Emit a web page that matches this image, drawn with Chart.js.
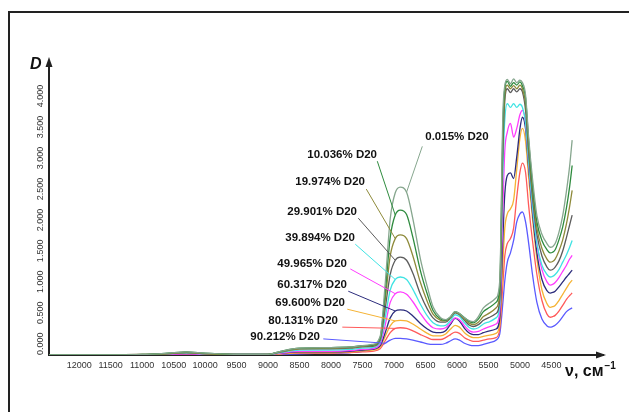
<!DOCTYPE html>
<html><head><meta charset="utf-8">
<script src="https://cdn.jsdelivr.net/npm/chart.js@4.4.0/dist/chart.umd.min.js"></script>
<style>
html,body{margin:0;padding:0;background:#fff;}
#wrap{position:relative;width:629px;height:412px;overflow:hidden;background:#fff;}
#frame{position:absolute;left:8px;top:11px;width:700px;height:500px;border-left:2px solid #222;border-top:2px solid #222;}
canvas{position:absolute;left:0;top:0;}
</style></head><body>
<div id="wrap"><div id="frame"></div><canvas id="c" width="629" height="412"></canvas></div>
<script>
// wavenumbers, cm^-1
const wave = [12480, 12000, 11000, 10600, 10300, 10000, 9500, 9000, 8800, 8500, 8000, 7700, 7500, 7350, 7220, 7140, 7060, 6980, 6900, 6800, 6700, 6580, 6470, 6380, 6260, 6180, 6100, 6030, 5960, 5880, 5800, 5740, 5660, 5580, 5480, 5380, 5320, 5270, 5240, 5200, 5150, 5100, 5050, 5000, 4960, 4910, 4860, 4800, 4730, 4650, 4570, 4520, 4480, 4440, 4380, 4320, 4260, 4210, 4170];
const xTicks = [12000, 11500, 11000, 10500, 10000, 9500, 9000, 8500, 8000, 7500, 7000, 6500, 6000, 5500, 5000, 4500];
const yTicks = [0, 0.5, 1, 1.5, 2, 2.5, 3, 3.5, 4];
const seriesNames = ['0.015% D20', '10.036% D20', '19.974% D20', '29.901% D20', '39.894% D20', '49.965% D20', '60.317% D20', '69.600% D20', '80.131% D20', '90.212% D20'];
const seriesColors = ['#86a68e', '#2e8b3e', '#8e8a3a', '#5c5c5c', '#3fe3e3', '#ff3cff', '#2c2c7c', '#f5b335', '#ff5a5a', '#5a5aff'];

const d00 = [0, 0, 0.01, 0.03, 0.05, 0.03, 0.01, 0.01, 0.06, 0.11, 0.12, 0.13, 0.15, 0.17, 0.3, 1.15, 2.2, 2.62, 2.71, 2.63, 2.2, 1.55, 1.1, 0.78, 0.6, 0.57, 0.62, 0.7, 0.67, 0.6, 0.55, 0.54, 0.62, 0.76, 0.84, 0.92, 1.2, 3.9, 4.35, 4.45, 4.38, 4.46, 4.4, 4.44, 4.4, 4.2, 3.5, 2.85, 2.25, 1.95, 1.8, 1.74, 1.75, 1.8, 1.98, 2.25, 2.65, 3.05, 3.47];
const d10 = [0, 0, 0.01, 0.03, 0.05, 0.03, 0.01, 0.01, 0.06, 0.11, 0.12, 0.13, 0.15, 0.16, 0.28, 1.0, 1.9, 2.26, 2.34, 2.27, 1.9, 1.36, 0.98, 0.72, 0.58, 0.56, 0.62, 0.7, 0.67, 0.6, 0.54, 0.52, 0.58, 0.7, 0.77, 0.85, 1.1, 3.7, 4.3, 4.42, 4.34, 4.4, 4.36, 4.41, 4.35, 4.15, 3.45, 2.75, 2.15, 1.85, 1.7, 1.65, 1.66, 1.7, 1.86, 2.07, 2.38, 2.72, 3.06];
const d20 = [0, 0, 0.01, 0.02, 0.04, 0.02, 0.01, 0.01, 0.05, 0.1, 0.11, 0.12, 0.14, 0.15, 0.26, 0.88, 1.6, 1.88, 1.94, 1.88, 1.6, 1.17, 0.86, 0.66, 0.56, 0.55, 0.61, 0.69, 0.66, 0.58, 0.51, 0.49, 0.53, 0.62, 0.68, 0.76, 1.0, 3.5, 4.2, 4.36, 4.3, 4.35, 4.3, 4.36, 4.3, 4.05, 3.35, 2.65, 2.05, 1.72, 1.55, 1.5, 1.51, 1.55, 1.68, 1.86, 2.12, 2.4, 2.66];
const d30 = [0, 0, 0.01, 0.02, 0.04, 0.02, 0.01, 0.01, 0.05, 0.1, 0.1, 0.11, 0.13, 0.14, 0.24, 0.75, 1.3, 1.53, 1.58, 1.53, 1.32, 0.98, 0.74, 0.6, 0.53, 0.53, 0.6, 0.68, 0.65, 0.56, 0.48, 0.46, 0.49, 0.56, 0.61, 0.67, 0.9, 3.3, 4.1, 4.3, 4.24, 4.3, 4.25, 4.3, 4.25, 3.95, 3.25, 2.55, 1.95, 1.6, 1.42, 1.37, 1.38, 1.42, 1.52, 1.68, 1.9, 2.1, 2.26];
const d40 = [0, 0, 0, 0.02, 0.03, 0.02, 0.01, 0.01, 0.04, 0.08, 0.08, 0.09, 0.11, 0.12, 0.21, 0.6, 1.05, 1.22, 1.26, 1.22, 1.06, 0.82, 0.63, 0.52, 0.47, 0.48, 0.56, 0.65, 0.62, 0.52, 0.44, 0.42, 0.44, 0.5, 0.54, 0.6, 0.8, 3.0, 3.8, 4.06, 4.0, 4.06, 4.0, 4.05, 4.0, 3.75, 3.1, 2.4, 1.8, 1.45, 1.3, 1.26, 1.27, 1.3, 1.38, 1.5, 1.62, 1.74, 1.85];
const d50 = [0, 0, 0, 0.01, 0.02, 0.01, 0.01, 0.01, 0.03, 0.06, 0.06, 0.07, 0.09, 0.1, 0.18, 0.48, 0.85, 0.99, 1.02, 0.98, 0.86, 0.67, 0.52, 0.44, 0.42, 0.44, 0.52, 0.6, 0.57, 0.47, 0.39, 0.37, 0.38, 0.42, 0.46, 0.5, 0.7, 2.4, 3.3, 3.6, 3.74, 3.52, 3.66, 3.88, 3.95, 3.75, 3.1, 2.4, 1.8, 1.38, 1.18, 1.13, 1.14, 1.17, 1.25, 1.35, 1.45, 1.55, 1.61];
const d60 = [0, 0, 0, 0.01, 0.02, 0.01, 0.01, 0.01, 0.03, 0.05, 0.05, 0.06, 0.08, 0.09, 0.15, 0.36, 0.6, 0.71, 0.73, 0.71, 0.63, 0.51, 0.42, 0.37, 0.36, 0.39, 0.5, 0.59, 0.55, 0.43, 0.35, 0.33, 0.33, 0.36, 0.39, 0.42, 0.6, 1.9, 2.6, 2.9, 2.94, 2.85, 3.2, 3.65, 3.84, 3.65, 3.0, 2.3, 1.65, 1.22, 1.04, 1.0, 1.01, 1.03, 1.1, 1.18, 1.26, 1.32, 1.37];
const d70 = [0, 0, 0, 0.01, 0.01, 0.01, 0, 0.01, 0.02, 0.04, 0.04, 0.05, 0.07, 0.08, 0.13, 0.3, 0.47, 0.55, 0.56, 0.55, 0.5, 0.42, 0.35, 0.31, 0.31, 0.34, 0.42, 0.48, 0.45, 0.36, 0.3, 0.28, 0.28, 0.3, 0.32, 0.35, 0.5, 1.5, 2.05, 2.28, 2.36, 2.5, 3.0, 3.5, 3.66, 3.45, 2.85, 2.2, 1.55, 1.05, 0.83, 0.77, 0.78, 0.8, 0.88, 0.98, 1.08, 1.16, 1.21];
const d80 = [0, 0, 0, 0.01, 0.01, 0.01, 0, 0, 0.02, 0.03, 0.03, 0.04, 0.05, 0.06, 0.1, 0.23, 0.36, 0.43, 0.44, 0.43, 0.39, 0.33, 0.28, 0.25, 0.25, 0.28, 0.33, 0.37, 0.35, 0.28, 0.24, 0.22, 0.22, 0.24, 0.26, 0.28, 0.42, 1.15, 1.6, 1.8, 1.88, 2.05, 2.55, 2.95, 3.1, 2.95, 2.4, 1.85, 1.3, 0.88, 0.66, 0.61, 0.62, 0.64, 0.71, 0.8, 0.9, 0.96, 1.0];
const d90 = [0, 0, 0, 0, 0.01, 0.01, 0, 0, 0.01, 0.02, 0.03, 0.04, 0.06, 0.1, 0.14, 0.19, 0.24, 0.27, 0.27, 0.26, 0.24, 0.21, 0.18, 0.17, 0.17, 0.19, 0.23, 0.26, 0.24, 0.19, 0.16, 0.15, 0.15, 0.17, 0.2, 0.24, 0.34, 0.85, 1.2, 1.5, 1.65, 1.85, 2.15, 2.28, 2.31, 2.15, 1.8, 1.3, 0.85, 0.58, 0.47, 0.45, 0.46, 0.48, 0.54, 0.62, 0.7, 0.74, 0.76];
const seriesValues = [d00, d10, d20, d30, d40, d50, d60, d70, d80, d90];

// callout labels (data units: wavenumber / D) and leader lines
const labelWave = [6503, 8377, 8568, 8695, 8727, 8854, 8854, 8886, 8997, 9283];
const labelD = [3.53, 3.23, 2.79, 2.31, 1.89, 1.48, 1.13, 0.84, 0.55, 0.29];
const leaderWave = [6550, 7265, 7440, 7567, 7615, 7694, 7726, 7742, 7821, 8123];
const leaderD = [3.37, 3.13, 2.68, 2.21, 1.79, 1.39, 1.03, 0.74, 0.45, 0.26];
const leaderIdx = [19, 17, 17, 17, 17, 17, 17, 17, 17, 15];

Chart.defaults.font.family = '"Liberation Sans", Arial, sans-serif';

const datasets = seriesNames.map((name, i) => ({
  label: name,
  data: wave.map((w, k) => ({x: w, y: seriesValues[i][k]})),
  borderColor: seriesColors[i],
  backgroundColor: seriesColors[i],
  borderWidth: 1.3,
  pointRadius: 0,
  fill: false,
  cubicInterpolationMode: 'monotone'
}));

const decor = {
  id: 'decor',
  afterDraw(chart) {
    const {ctx, chartArea: a, scales: {x, y}} = chart;
    ctx.save();
    // arrow heads
    ctx.fillStyle = '#222';
    ctx.beginPath();
    ctx.moveTo(a.left, a.top - 7);
    ctx.lineTo(a.left - 3.5, a.top + 3);
    ctx.lineTo(a.left + 3.5, a.top + 3);
    ctx.closePath(); ctx.fill();
    ctx.beginPath();
    ctx.moveTo(a.right + 3, a.bottom);
    ctx.lineTo(a.right - 7, a.bottom - 3.5);
    ctx.lineTo(a.right - 7, a.bottom + 3.5);
    ctx.closePath(); ctx.fill();
    // axis titles
    ctx.fillStyle = '#111';
    ctx.textAlign = 'left';
    ctx.textBaseline = 'alphabetic';
    ctx.font = 'italic bold 16px "Liberation Sans", Arial, sans-serif';
    ctx.fillText('D', a.left - 19, a.top + 5);
    ctx.font = 'bold 16px "Liberation Sans", Arial, sans-serif';
    const t = 'ν, см';
    const tx = a.right - 38, ty = a.bottom + 21;
    ctx.fillText(t, tx, ty);
    const tw = ctx.measureText(t).width;
    ctx.font = 'bold 10px "Liberation Sans", Arial, sans-serif';
    ctx.fillText('−1', tx + tw + 1, ty - 7);
    // callouts
    ctx.lineWidth = 1;
    for (let i = 0; i < seriesNames.length; i++) {
      const k = leaderIdx[i];
      ctx.strokeStyle = seriesColors[i];
      ctx.beginPath();
      ctx.moveTo(x.getPixelForValue(leaderWave[i]), y.getPixelForValue(leaderD[i]));
      ctx.lineTo(x.getPixelForValue(wave[k]), y.getPixelForValue(seriesValues[i][k]));
      ctx.stroke();
    }
    ctx.fillStyle = '#111';
    ctx.font = 'bold 11.5px "Liberation Sans", Arial, sans-serif';
    ctx.textBaseline = 'middle';
    for (let i = 0; i < seriesNames.length; i++) {
      ctx.fillText(seriesNames[i], x.getPixelForValue(labelWave[i]), y.getPixelForValue(labelD[i]));
    }
    ctx.restore();
  }
};

new Chart(document.getElementById('c'), {
  type: 'line',
  data: { datasets },
  options: {
    responsive: false,
    animation: false,
    devicePixelRatio: 1,
    layout: { padding: { left: 36, right: 26, top: 64, bottom: 37 } },
    plugins: { legend: { display: false }, tooltip: { enabled: false } },
    scales: {
      x: {
        type: 'linear', reverse: true, min: 3680, max: 12480,
        grid: { display: false, drawTicks: false },
        border: { display: true, color: '#222', width: 2 },
        ticks: { padding: 5, color: '#333', font: { size: 9 }, autoSkip: false, maxRotation: 0, callback: v => String(v) },
        afterBuildTicks: s => { s.ticks = xTicks.map(v => ({ value: v })); },
        afterFit: s => { s.height = 20; }
      },
      y: {
        type: 'linear', min: 0, max: 4.7,
        grid: { display: false, drawTicks: false },
        border: { display: true, color: '#222', width: 2 },
        ticks: { crossAlign: 'far', align: 'start', minRotation: 90, maxRotation: 90, autoSkip: false, color: '#333', font: { size: 9 }, callback: v => Number(v).toFixed(3) },
        afterBuildTicks: s => { s.ticks = yTicks.map(v => ({ value: v })); },
        afterFit: s => { s.width = 13; }
      }
    }
  },
  plugins: [decor]
});
</script>
</body></html>
